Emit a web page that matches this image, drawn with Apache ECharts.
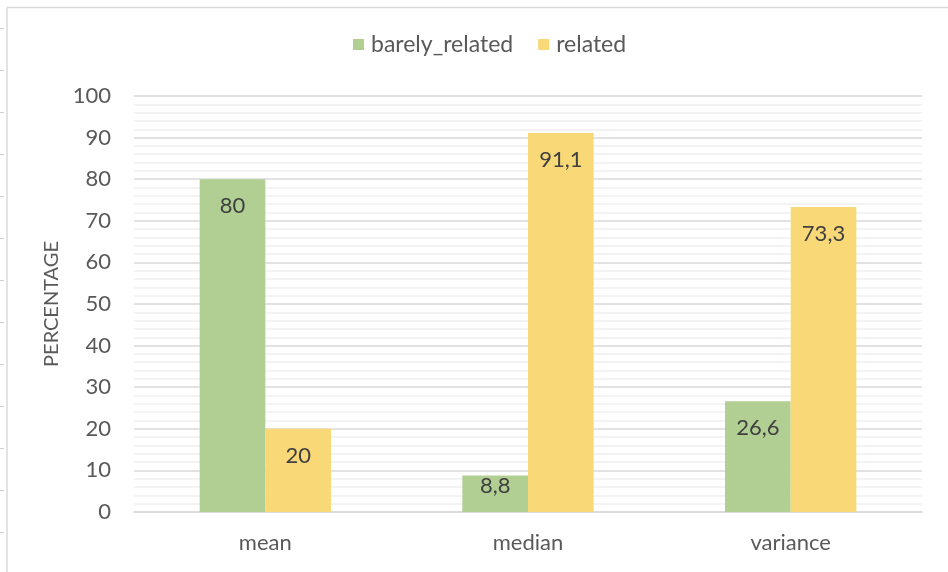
<!DOCTYPE html>
<html>
<head>
<meta charset="utf-8">
<title>barely_related vs related</title>
<script src="https://cdn.jsdelivr.net/npm/echarts@6/dist/echarts.min.js"></script>
<style>
  html, body { margin: 0; padding: 0; background: #ffffff; }
  #chart { width: 948px; height: 572px; }
</style>
</head>
<body>
<div id="chart"></div>
<script>
// Statistics of the two groups, in percent
const categories = ['mean', 'median', 'variance'];
const barelyRelated = [80, 8.8, 26.6];
const related = [20, 91.1, 73.3];
const yTicks = [0, 10, 20, 30, 40, 50, 60, 70, 80, 90, 100];

const FONT = 'Lato, "Open Sans", sans-serif';
const GREEN = '#b1cf93';
const YELLOW = '#f9d877';

// Labels sit inside the bar, near its top; short bars keep them tight to the top
function withLabels(values) {
  return values.map(v => ({
    value: v,
    label: { distance: v < 15 ? 0 : 16 }
  }));
}

const fmt = v => String(v).replace('.', ',');

const chart = echarts.init(document.getElementById('chart'), null, { renderer: 'canvas' });

// Frame of the chart box and the small row marks along the left edge
const frame = [
  { type: 'line', shape: { x1: 7, y1: 7.5, x2: 948, y2: 7.5 }, style: { stroke: '#d9d9d9', lineWidth: 1.5 } },
  { type: 'line', shape: { x1: 7, y1: 7.5, x2: 7, y2: 572 }, style: { stroke: '#d9d9d9', lineWidth: 1.5 } }
];
for (let y = 28; y < 572; y += 42) {
  frame.push({ type: 'line', shape: { x1: 0, y1: y + 0.5, x2: 4, y2: y + 0.5 }, style: { stroke: '#cfcfcf', lineWidth: 1 } });
}

const labelStyle = {
  show: true,
  position: 'insideTop',
  fontFamily: FONT,
  fontSize: 22,
  color: '#404040',
  formatter: p => fmt(p.value)
};

chart.setOption({
  animation: false,
  textStyle: { fontFamily: FONT },
  graphic: frame,
  legend: {
    top: 28,
    left: 348,
    itemWidth: 11,
    itemHeight: 11,
    itemGap: 25,
    icon: 'rect',
    textStyle: { fontFamily: FONT, fontSize: 23, color: '#595959', padding: [0, 0, 0, 2] },
    data: ['barely_related', 'related']
  },
  grid: { left: 134, right: 26, top: 96, bottom: 60, containLabel: false },
  xAxis: {
    type: 'category',
    data: categories,
    axisLine: { show: true, lineStyle: { color: '#d9d9d9', width: 1.5 } },
    axisTick: { show: false },
    axisLabel: { fontFamily: FONT, fontSize: 22, color: '#595959', margin: 20 }
  },
  yAxis: {
    type: 'value',
    min: yTicks[0],
    max: yTicks[yTicks.length - 1],
    interval: yTicks[1] - yTicks[0],
    name: 'PERCENTAGE',
    nameLocation: 'middle',
    nameGap: 72,
    nameRotate: 90,
    nameTextStyle: { fontFamily: FONT, fontSize: 20, color: '#595959' },
    axisLine: { show: false },
    axisTick: { show: false },
    axisLabel: { fontFamily: FONT, fontSize: 22, color: '#595959', margin: 23 },
    splitLine: { show: true, lineStyle: { color: '#d9d9d9', width: 1.5 } },
    minorTick: { show: false, splitNumber: 5 },
    minorSplitLine: { show: true, lineStyle: { color: '#efefef', width: 1.5 } }
  },
  series: [
    {
      name: 'barely_related',
      type: 'bar',
      data: withLabels(barelyRelated),
      barWidth: '25%',
      barGap: '0%',
      itemStyle: { color: GREEN },
      label: labelStyle
    },
    {
      name: 'related',
      type: 'bar',
      data: withLabels(related),
      barWidth: '25%',
      barGap: '0%',
      itemStyle: { color: YELLOW },
      label: labelStyle
    }
  ]
});
</script>
</body>
</html>
